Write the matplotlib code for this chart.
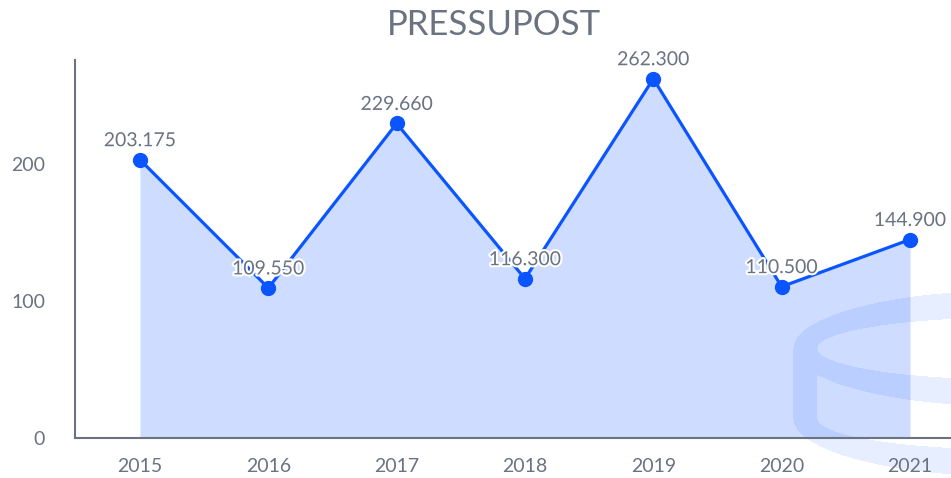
import matplotlib
matplotlib.use('Agg')
import matplotlib.pyplot as plt
import matplotlib.patheffects as pe
import numpy as np

years = ['2015', '2016', '2017', '2018', '2019', '2020', '2021']
values = [203.175, 109.55, 229.66, 116.3, 262.3, 110.5, 144.9]
value_labels = ['203.175', '109.550', '229.660', '116.300', '262.300', '110.500', '144.900']
y_ticks = [0, 100, 200]
title = 'PRESSUPOST'

BLUE = '#0a55ff'
GRAY = '#6b7280'
W, H = 951, 478

plt.rcParams['font.family'] = ['Lato', 'DejaVu Sans']

fig = plt.figure(figsize=(W / 100, H / 100), dpi=100)
fig.patch.set_facecolor('white')

# decorative watermark (cylinder outline) in the bottom right, pixel grid
yy, xx = np.mgrid[0:H, 0:W].astype(float)
cx, cy, cy2 = 1010.0, 348.0, 418.0
ao, bo, ai, bi = 217.0, 58.0, 193.0, 31.0
in_outer = ((xx - cx) / ao) ** 2 + ((yy - cy) / bo) ** 2 <= 1
in_inner = ((xx - cx) / ai) ** 2 + ((yy - cy) / bi) ** 2 <= 1
ring = in_outer & ~in_inner
outer_st = ((np.abs(xx - cx) <= ao) & (yy >= cy) & (yy <= cy2)) | \
           ((((xx - cx) / ao) ** 2 + ((yy - cy2) / bo) ** 2 <= 1) & (yy >= cy2))
inner_st = ((np.abs(xx - cx) <= ai) & (yy >= cy) & (yy <= cy2)) | \
           ((((xx - cx) / ai) ** 2 + ((yy - cy2) / bi) ** 2 <= 1) & (yy >= cy2))
mask = ring | (outer_st & ~inner_st)
rgba = np.zeros((H, W, 4))
rgba[..., :3] = matplotlib.colors.to_rgb(BLUE)
rgba[..., 3] = mask * 0.1
fig.figimage(rgba, xo=0, yo=0, origin='upper', zorder=-1)

ax = fig.add_axes([75 / W, 1 - 438 / H, 1 - 75 / W, (438 - 60) / H])
ax.set_facecolor('none')
x = np.arange(len(years))
ax.fill_between(x, values, 0, color=BLUE, alpha=0.2, lw=0, zorder=1)
ax.plot(x, values, color=BLUE, lw=2.3, marker='o', ms=10, zorder=3)

for xi, v, lab in zip(x, values, value_labels):
    ax.annotate(lab, (xi, v), xytext=(0, 13.7), textcoords='offset points',
                ha='center', va='center', fontsize=14, color=GRAY, zorder=4,
                path_effects=[pe.withStroke(linewidth=3, foreground='white')])

ax.set_xlim(-(140 - 75) / 128.33, 6 + (951 - 910) / 128.33)
ax.set_ylim(0, 276)
ax.set_xticks(x)
ax.set_xticklabels(years)
ax.set_yticks(y_ticks)
ax.tick_params(axis='both', length=0, labelsize=14, labelcolor=GRAY)
ax.tick_params(axis='y', pad=21.6)
ax.tick_params(axis='x', pad=14.5)
for s in ['top', 'right']:
    ax.spines[s].set_visible(False)
for s in ['left', 'bottom']:
    ax.spines[s].set_color(GRAY)
    ax.spines[s].set_linewidth(1.5)

fig.text(494 / W, 1 - 35 / H, title, ha='center', va='baseline',
         fontsize=25, color=GRAY)

fig.savefig('out.png', dpi=100)
